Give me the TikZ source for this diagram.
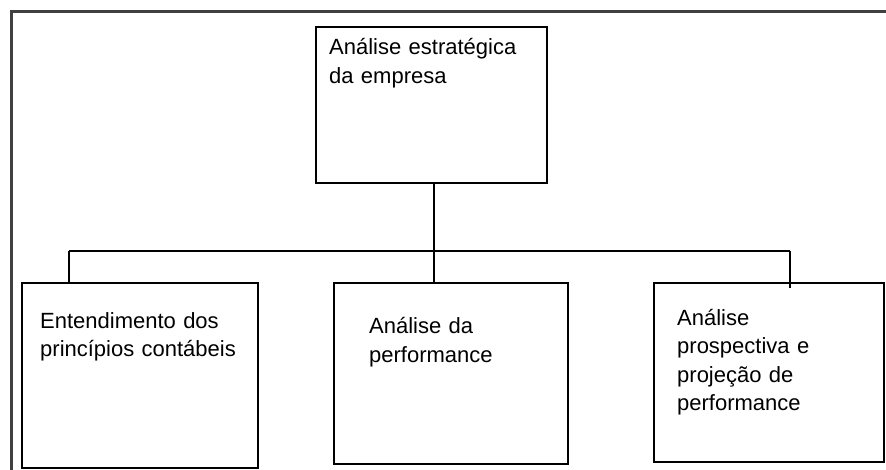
\documentclass[tikz,border=0pt]{standalone}
\usepackage{fontspec}
\setmainfont{Liberation Sans}
\usetikzlibrary{calc}

\tikzset{
  box/.style={draw, line width=1.8pt, inner sep=0pt},
  lbl/.style={font=\fontsize{22}{28.5}\selectfont, text width=230pt, align=left, inner sep=0pt, anchor=base west},
  link/.style={line width=1.8pt},
}

\begin{document}
\begin{tikzpicture}[x=1pt,y=-1pt]
	%%%%% START %%%%%
	\useasboundingbox (0,0) rectangle (886,470);
	
	\draw[line width=2.2pt, color=black!75] (11.5,470) -- (11.5,11.5) -- (886,11.5);
	
	\node[box, minimum width=231pt, minimum height=156pt] (empresa) at (431.5,105) {};
	\node[box, minimum width=236pt, minimum height=185pt] (contabil) at (140,375.5) {};
	\node[box, minimum width=234pt, minimum height=181pt] (performance) at (451,373.5) {};
	\node[box, minimum width=230pt, minimum height=179pt] (prospectiva) at (769,372.5) {};
	
	\node[lbl] (t-empresa) at (329,55) {Análise estratégica\\da empresa};
	\node[lbl] (t-contabil) at (40,328) {Entendimento dos\\princípios contábeis};
	\node[lbl] (t-performance) at (369,334) {Análise da\\performance};
	\node[lbl] (t-prospectiva) at (677,325) {Análise\\prospectiva e\\projeção de\\performance};
	
	\coordinate (bus) at (434,251);
	\coordinate (busL) at (69,251);
	\coordinate (busR) at (790,251);
	\coordinate (tipR) at (790,288);
	
	\draw[link] (bus |- empresa.south) -- (bus);
	\draw[link] (busL) -- (busR);
	\draw[link] (busL) -- (busL |- contabil.north);
	\draw[link] (bus) -- (bus |- performance.north);
	\draw[link] (busR) -- (tipR);
	
	%%%%% END %%%%%
\end{tikzpicture}
\end{document}
